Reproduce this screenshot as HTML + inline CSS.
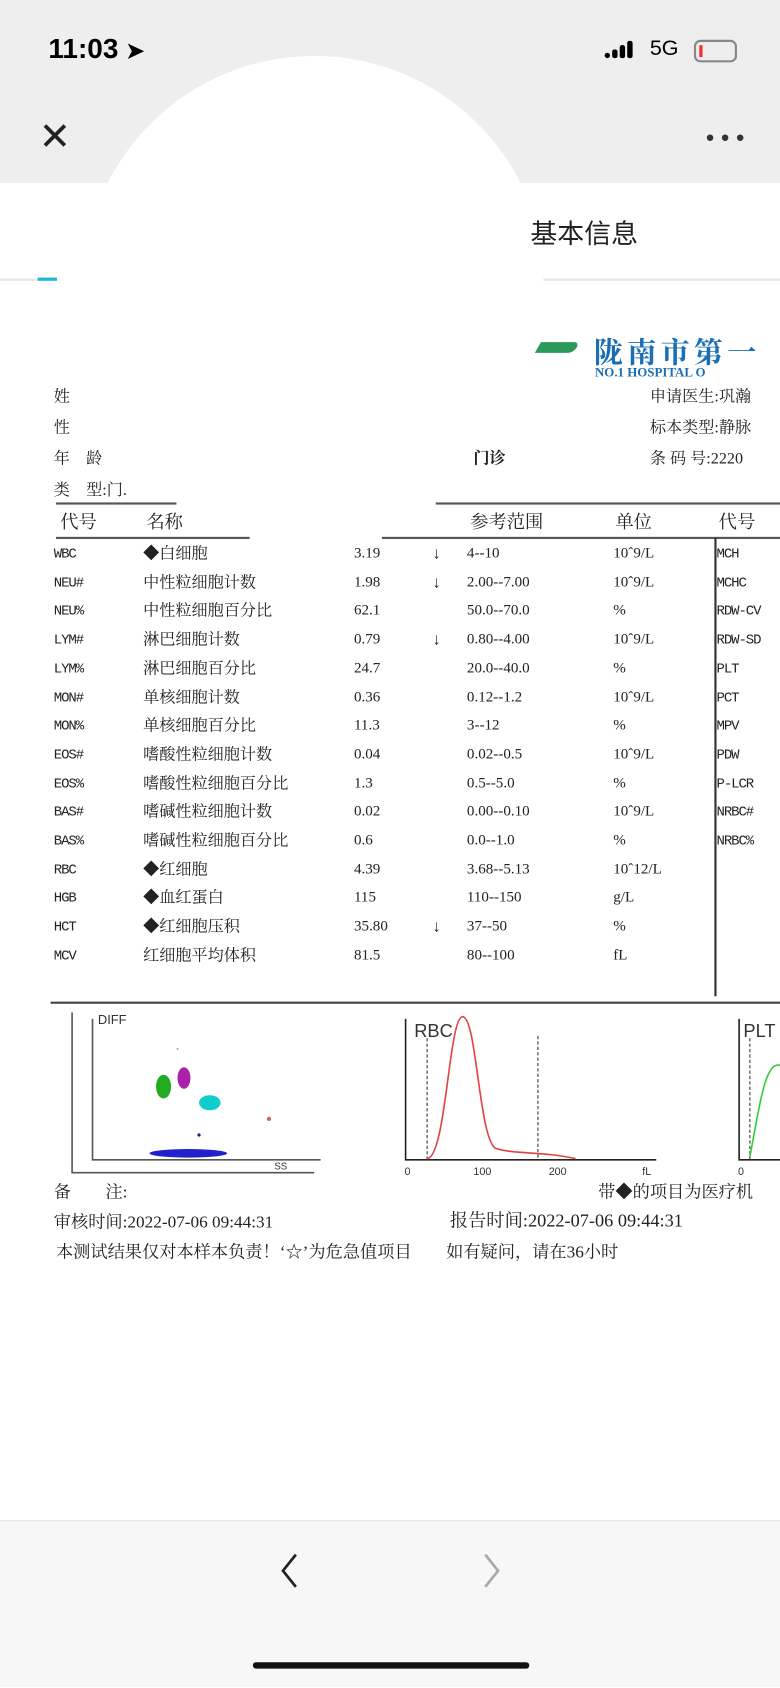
<!DOCTYPE html>
<html><head><meta charset="utf-8"><style>
*{margin:0;padding:0;box-sizing:border-box}
html,body{width:780px;height:1688px;overflow:hidden;background:#fff}
#w{position:absolute;left:0;top:0;width:725px;height:1568px;transform:scale(1.07586);transform-origin:0 0;background:#fff;font-family:"Liberation Serif","Noto Serif CJK SC",serif;color:#222}
.a{position:absolute;white-space:nowrap}
.s{font-family:"Liberation Sans","Noto Sans CJK SC",sans-serif}
.r{font-size:15px;line-height:18px}
.c{font-size:13px;font-family:"Liberation Mono",monospace;letter-spacing:-1px}
</style></head><body><div id="w">
<div class="a" style="left:0;top:0;width:725px;height:170px;background:#eeeeee"></div>
<div class="a" style="left:77px;top:52px;width:430px;height:430px;border-radius:50%;background:#fff"></div>
<div class="a s" style="left:45px;top:30px;font-size:26px;font-weight:bold;color:#000">11:03 <span style="font-size:20px">➤</span></div>
<div class="a" style="left:562px;top:38px;width:40px;height:22px">
<div class="a" style="left:0;top:11px;width:5px;height:5px;border-radius:50%;background:#000"></div>
<div class="a" style="left:7px;top:8px;width:5px;height:8px;border-radius:2px;background:#000"></div>
<div class="a" style="left:14px;top:4px;width:5px;height:12px;border-radius:2px;background:#000"></div>
<div class="a" style="left:21px;top:0;width:5px;height:16px;border-radius:2px;background:#000"></div>
</div>
<div class="a s" style="left:604px;top:34px;font-size:20px;color:#000">5G</div>
<div class="a" style="left:645px;top:37px;width:40px;height:21px;border:2px solid #888;border-radius:6px"><div style="position:absolute;left:3px;top:3px;width:3px;height:11px;background:#e33"></div></div>
<div class="a s" style="left:36px;top:106px;font-size:36px;font-weight:300;color:#222">✕</div>
<div class="a" style="left:657px;top:125px;width:34px;height:6px">
<div class="a" style="left:0;top:0;width:6px;height:6px;border-radius:50%;background:#333"></div>
<div class="a" style="left:14px;top:0;width:6px;height:6px;border-radius:50%;background:#333"></div>
<div class="a" style="left:28px;top:0;width:6px;height:6px;border-radius:50%;background:#333"></div></div>
<div class="a s" style="left:493px;top:198px;font-size:25px;color:#222">基本信息</div>
<div class="a" style="left:0;top:259px;width:35px;height:2px;background:#e5e5e5"></div>
<div class="a" style="left:35px;top:258px;width:18px;height:3px;background:#1cb8d8"></div>
<div class="a" style="left:505px;top:259px;width:220px;height:2px;background:#e5e5e5"></div>

<!-- logo -->
<div class="a" style="left:500px;top:318px;width:36px;height:10px;background:#2a9a5a;border-radius:0 8px 8px 0;transform:skewX(-30deg)"></div>
<div class="a" style="left:552px;top:306px;font-size:27px;font-weight:bold;color:#1a6fb4;font-family:'Noto Serif CJK SC',serif;letter-spacing:4px">陇南市第一</div>
<div class="a" style="left:553px;top:339px;font-size:12px;font-weight:bold;color:#1a6fb4">NO.1 HOSPITAL O</div>

<div class="a r" style="left:50px;top:360px">姓</div>
<div class="a r" style="left:50px;top:389px">性</div>
<div class="a r" style="left:50px;top:418px">年　龄</div>
<div class="a r" style="left:50px;top:447px">类　型:门.</div>
<div class="a r" style="left:440px;top:418px;font-weight:bold">门诊</div>
<div class="a r" style="left:604px;top:360px">申请医生:巩瀚</div>
<div class="a r" style="left:604px;top:389px">标本类型:静脉</div>
<div class="a r" style="left:604px;top:418px">条 码 号:2220</div>

<div class="a" style="left:52px;top:467px;width:112px;height:2px;background:#555"></div>
<div class="a" style="left:405px;top:467px;width:320px;height:2px;background:#555"></div>
<div class="a r" style="left:56px;top:477px;font-size:17px">代号</div>
<div class="a r" style="left:136px;top:477px;font-size:17px">名称</div>
<div class="a r" style="left:437px;top:477px;font-size:17px">参考范围</div>
<div class="a r" style="left:572px;top:477px;font-size:17px">单位</div>
<div class="a r" style="left:668px;top:477px;font-size:17px">代号</div>
<div class="a" style="left:52px;top:499px;width:180px;height:2px;background:#555"></div>
<div class="a" style="left:355px;top:499px;width:370px;height:2px;background:#555"></div>
<div class="a" style="left:664px;top:500px;width:2px;height:426px;background:#333"></div>
<div class="a" style="left:47px;top:931px;width:678px;height:2px;background:#444"></div>

<div id="rows"></div>
<script>
var d=[["WBC","◆白细胞","3.19","↓","4--10","10ˆ9/L","MCH"],["NEU#","中性粒细胞计数","1.98","↓","2.00--7.00","10ˆ9/L","MCHC"],["NEU%","中性粒细胞百分比","62.1","","50.0--70.0","%","RDW-CV"],["LYM#","淋巴细胞计数","0.79","↓","0.80--4.00","10ˆ9/L","RDW-SD"],["LYM%","淋巴细胞百分比","24.7","","20.0--40.0","%","PLT"],["MON#","单核细胞计数","0.36","","0.12--1.2","10ˆ9/L","PCT"],["MON%","单核细胞百分比","11.3","","3--12","%","MPV"],["EOS#","嗜酸性粒细胞计数","0.04","","0.02--0.5","10ˆ9/L","PDW"],["EOS%","嗜酸性粒细胞百分比","1.3","","0.5--5.0","%","P-LCR"],["BAS#","嗜碱性粒细胞计数","0.02","","0.00--0.10","10ˆ9/L","NRBC#"],["BAS%","嗜碱性粒细胞百分比","0.6","","0.0--1.0","%","NRBC%"],["RBC","◆红细胞","4.39","","3.68--5.13","10ˆ12/L",""],["HGB","◆血红蛋白","115","","110--150","g/L",""],["HCT","◆红细胞压积","35.80","↓","37--50","%",""],["MCV","红细胞平均体积","81.5","","80--100","fL",""]];
var h="",x=[50,133,329,402,434,570,666];
d.forEach(function(r,i){var y=506+i*26.7;r.forEach(function(t,j){var cl=(j==0||j==6)?"a c":"a r";var fs=(j==2||j==4||j==5)?"font-size:14px;":"";h+='<div class="'+cl+'" style="left:'+x[j]+'px;top:'+(y+(cl=="a c"?1:0))+'px;'+fs+'">'+t+'</div>';});});
document.getElementById("rows").innerHTML=h;
</script>

<!-- DIFF -->
<svg class="a" style="left:55px;top:935px" width="670" height="160">
<polyline points="12,6 12,155 237,155" fill="none" stroke="#555" stroke-width="1.5"/>
<polyline points="31,12 31,143 243,143" fill="none" stroke="#555" stroke-width="1.5"/>
<text x="36" y="17" font-family="Liberation Sans" font-size="12" fill="#333">DIFF</text>
<text x="200" y="152" font-family="Liberation Sans" font-size="9" fill="#333">SS</text>
<ellipse cx="97" cy="75" rx="7" ry="11" fill="#2a2"/>
<ellipse cx="116" cy="67" rx="6" ry="10" fill="#a2a"/>
<ellipse cx="140" cy="90" rx="10" ry="7" fill="#1cc"/>
<ellipse cx="120" cy="137" rx="36" ry="4" fill="#22c"/>
<circle cx="195" cy="105" r="2" fill="#c66"/><circle cx="110" cy="40" r="1" fill="#c9c"/><circle cx="130" cy="120" r="1.5" fill="#226"/>
<!-- RBC -->
<polyline points="322,12 322,143 555,143" fill="none" stroke="#222" stroke-width="1.5"/>
<line x1="342" y1="30" x2="342" y2="143" stroke="#333" stroke-dasharray="3,2"/>
<line x1="445" y1="28" x2="445" y2="143" stroke="#333" stroke-dasharray="3,2"/>
<path d="M342,142 C360,140 362,10 375,10 C388,10 390,120 405,132 C420,138 450,135 480,142" fill="none" stroke="#d44" stroke-width="1.5"/>
<text x="330" y="29" font-family="Liberation Sans" font-size="17" fill="#333">RBC</text>
<text x="321" y="157" font-family="Liberation Sans" font-size="10" fill="#333">0</text>
<text x="385" y="157" font-family="Liberation Sans" font-size="10" fill="#333">100</text>
<text x="455" y="157" font-family="Liberation Sans" font-size="10" fill="#333">200</text>
<text x="542" y="157" font-family="Liberation Sans" font-size="10" fill="#333">fL</text>
<!-- PLT -->
<polyline points="632,12 632,143 670,143" fill="none" stroke="#222" stroke-width="1.5"/>
<line x1="642" y1="30" x2="642" y2="143" stroke="#333" stroke-dasharray="3,2"/>
<path d="M642,140 C650,100 655,55 668,55 L670,55" fill="none" stroke="#3c3" stroke-width="1.5"/>
<text x="636" y="29" font-family="Liberation Sans" font-size="17" fill="#333">PLT</text>
<text x="631" y="157" font-family="Liberation Sans" font-size="10" fill="#333">0</text>
</svg>

<div class="a r" style="left:50px;top:1100px;font-size:16px">备　　注:</div>
<div class="a r" style="left:556px;top:1100px;font-size:16px">带◆的项目为医疗机</div>
<div class="a r" style="left:50px;top:1128px;font-size:16px">审核时间:2022-07-06 09:44:31</div>
<div class="a r" style="left:418px;top:1126px;font-size:17px">报告时间:2022-07-06 09:44:31</div>
<div class="a r" style="left:52px;top:1156px;font-size:16px">本测试结果仅对本样本负责！‘☆’为危急值项目　　如有疑问，请在36小时</div>

<div class="a" style="left:0;top:1413px;width:725px;height:155px;background:#f7f7f7;border-top:1px solid #e2e2e2"></div>
<svg class="a" style="left:255px;top:1442px" width="220" height="36">
<polyline points="20,3 8,18 20,33" fill="none" stroke="#222" stroke-width="2.5"/>
<polyline points="196,3 208,18 196,33" fill="none" stroke="#aaa" stroke-width="2.5"/>
</svg>
<div class="a" style="left:235px;top:1545px;width:257px;height:6px;border-radius:3px;background:#111"></div>
</div></body></html>
